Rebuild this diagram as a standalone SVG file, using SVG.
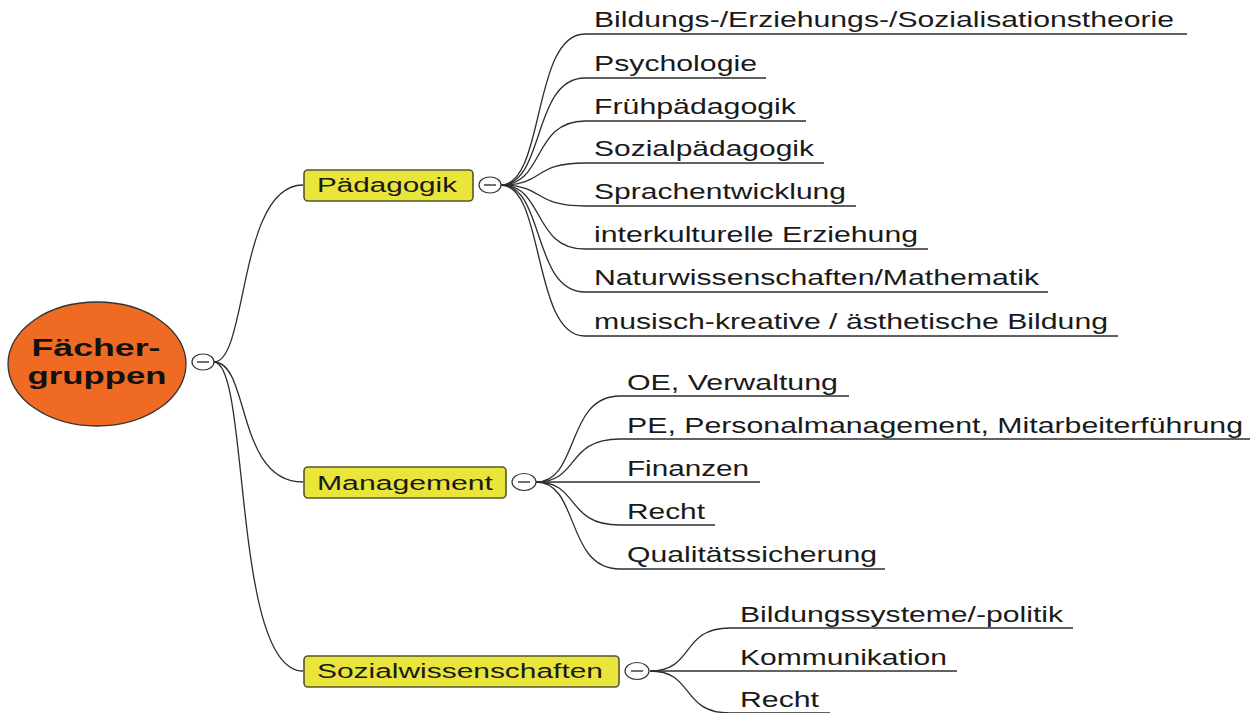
<svg xmlns="http://www.w3.org/2000/svg" width="1258" height="713" viewBox="0 0 1258 713">
<style>
.bg{fill:#ffffff}
.ln{fill:none;stroke:#2e2e2e;stroke-width:1.3}
.box{fill:#EAE53A;stroke:#55552e;stroke-width:1.6}
.tog{fill:#ffffff;stroke:#333333;stroke-width:1.2}
.minus{stroke:#333333;stroke-width:1.4}
.t{font-family:"Liberation Sans",Arial,sans-serif;font-size:22px;fill:#1a1a1a}
.bt{font-family:"Liberation Sans",Arial,sans-serif;font-size:20px;fill:#1a1a1a}
.ct{font-family:"Liberation Sans",Arial,sans-serif;font-size:24px;font-weight:bold;fill:#111111}
</style>
<rect class="bg" x="0" y="0" width="1258" height="713"/>
<g id="connectors">
  <path class="ln" d="M214 362 C248 362 238 185 303 185"/>
  <path class="ln" d="M214 362 C250 362 236 482 303 482"/>
  <path class="ln" d="M214 362 C250 362 232 671 303 671"/>
  <path class="ln" d="M501 185 C545 185 532 34 585 34 H1187"/>
  <path class="ln" d="M501 185 C545 185 532 78 585 78 H766"/>
  <path class="ln" d="M501 185 C545 185 532 121 585 121 H806"/>
  <path class="ln" d="M501 185 C545 185 532 163 585 163 H824"/>
  <path class="ln" d="M501 185 C545 185 532 206 585 206 H856"/>
  <path class="ln" d="M501 185 C545 185 532 249 585 249 H928"/>
  <path class="ln" d="M501 185 C545 185 532 292 585 292 H1048"/>
  <path class="ln" d="M501 185 C545 185 532 336 585 336 H1118"/>
  <path class="ln" d="M536 482 C580 482 565 396 620 396 H849"/>
  <path class="ln" d="M536 482 C580 482 565 439 620 439 H1250"/>
  <path class="ln" d="M536 482 H760"/>
  <path class="ln" d="M536 482 C580 482 565 525 620 525 H715"/>
  <path class="ln" d="M536 482 C580 482 565 569 620 569 H885"/>
  <path class="ln" d="M650 671 C695 671 680 628 730 628 H1073"/>
  <path class="ln" d="M650 671 H957"/>
  <path class="ln" d="M650 671 C695 671 680 713 730 713 H830"/>
</g>
<g id="root">
  <ellipse cx="97" cy="364" rx="89" ry="62" fill="#EF6A22" stroke="#333333" stroke-width="1.3"/>
  <text class="ct" x="96" y="356" text-anchor="middle" textLength="129" lengthAdjust="spacingAndGlyphs">Fächer-</text>
  <text class="ct" x="97" y="384" text-anchor="middle" textLength="139" lengthAdjust="spacingAndGlyphs">gruppen</text>
  <ellipse class="tog" cx="203" cy="362" rx="11" ry="8"/>
  <line class="minus" x1="197" y1="362" x2="209" y2="362"/>
</g>
<g id="paedagogik">
  <rect class="box" x="304" y="170" width="169" height="31" rx="4"/>
  <text class="bt" x="317" y="192" textLength="140" lengthAdjust="spacingAndGlyphs">Pädagogik</text>
  <ellipse class="tog" cx="490" cy="185" rx="11" ry="8"/>
  <line class="minus" x1="484" y1="185" x2="496" y2="185"/>
</g>
<g id="management">
  <rect class="box" x="304" y="467" width="202" height="31" rx="4"/>
  <text class="bt" x="317" y="490" textLength="176" lengthAdjust="spacingAndGlyphs">Management</text>
  <ellipse class="tog" cx="524" cy="482" rx="12" ry="8.5"/>
  <line class="minus" x1="518" y1="482" x2="530" y2="482"/>
</g>
<g id="sozialwissenschaften">
  <rect class="box" x="304" y="656" width="315" height="31" rx="4"/>
  <text class="bt" x="317" y="678" textLength="286" lengthAdjust="spacingAndGlyphs">Sozialwissenschaften</text>
  <ellipse class="tog" cx="637" cy="671" rx="12" ry="8.5"/>
  <line class="minus" x1="631" y1="671" x2="643" y2="671"/>
</g>
<g id="paed-children">
  <text class="t" x="594" y="27" textLength="580" lengthAdjust="spacingAndGlyphs">Bildungs-/Erziehungs-/Sozialisationstheorie</text>
  <text class="t" x="594" y="71" textLength="163" lengthAdjust="spacingAndGlyphs">Psychologie</text>
  <text class="t" x="594" y="114" textLength="202" lengthAdjust="spacingAndGlyphs">Frühpädagogik</text>
  <text class="t" x="594" y="156" textLength="220" lengthAdjust="spacingAndGlyphs">Sozialpädagogik</text>
  <text class="t" x="594" y="199" textLength="252" lengthAdjust="spacingAndGlyphs">Sprachentwicklung</text>
  <text class="t" x="594" y="242" textLength="324" lengthAdjust="spacingAndGlyphs">interkulturelle Erziehung</text>
  <text class="t" x="594" y="285" textLength="445" lengthAdjust="spacingAndGlyphs">Naturwissenschaften/Mathematik</text>
  <text class="t" x="594" y="329" textLength="514" lengthAdjust="spacingAndGlyphs">musisch-kreative / ästhetische Bildung</text>
</g>
<g id="mgmt-children">
  <text class="t" x="627" y="390" textLength="211" lengthAdjust="spacingAndGlyphs">OE, Verwaltung</text>
  <text class="t" x="627" y="433" textLength="616" lengthAdjust="spacingAndGlyphs">PE, Personalmanagement, Mitarbeiterführung</text>
  <text class="t" x="627" y="476" textLength="122" lengthAdjust="spacingAndGlyphs">Finanzen</text>
  <text class="t" x="627" y="519" textLength="78" lengthAdjust="spacingAndGlyphs">Recht</text>
  <text class="t" x="627" y="562" textLength="250" lengthAdjust="spacingAndGlyphs">Qualitätssicherung</text>
</g>
<g id="sozial-children">
  <text class="t" x="740" y="622" textLength="323" lengthAdjust="spacingAndGlyphs">Bildungssysteme/-politik</text>
  <text class="t" x="740" y="665" textLength="207" lengthAdjust="spacingAndGlyphs">Kommunikation</text>
  <text class="t" x="740" y="707" textLength="79" lengthAdjust="spacingAndGlyphs">Recht</text>
</g>
</svg>
